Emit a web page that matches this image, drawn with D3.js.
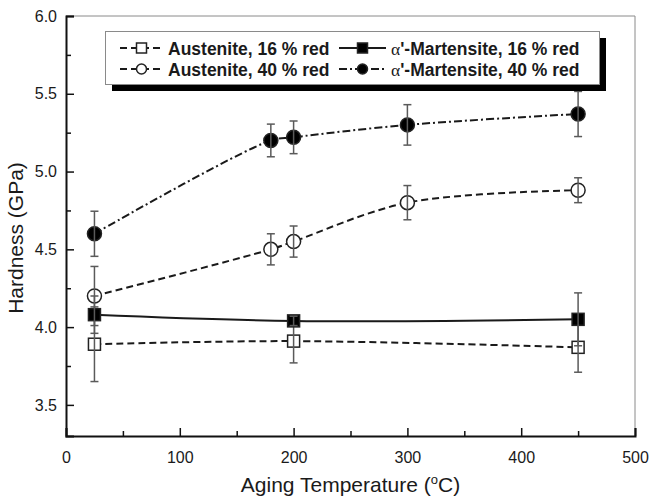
<!DOCTYPE html>
<html>
<head>
<meta charset="utf-8">
<script src="https://cdn.jsdelivr.net/npm/d3@7"></script>
<style>
  body { margin: 0; background: #fff; }
  text { font-family: Arial, "Liberation Sans", Helvetica, sans-serif; fill: #1a1a1a; }
</style>
</head>
<body>
<svg id="chart" width="650" height="499"></svg>
<script>
// values
var tempsAll = [25, 180, 200, 300, 450];
var tempsShort = [25, 200, 450];
var aus16 = [3.89, 3.91, 3.87];
var aus16Err = [0.24, 0.14, 0.16];
var mart16 = [4.08, 4.04, 4.05];
var mart16Err = [0.12, 0.03, 0.17];
var aus40 = [4.20, 4.50, 4.55, 4.80, 4.88];
var aus40Err = [0.19, 0.10, 0.10, 0.11, 0.08];
var mart40 = [4.60, 5.20, 5.22, 5.30, 5.37];
var mart40Err = [0.145, 0.105, 0.105, 0.13, 0.145];
var xTickValues = [0, 100, 200, 300, 400, 500];
var xMinorValues = [50, 150, 250, 350, 450];
var yTickValues = [3.5, 4.0, 4.5, 5.0, 5.5, 6.0];
var yMinorValues = [3.75, 4.25, 4.75, 5.25, 5.75];
var legendNames = ['Austenite, 16 % red', "'-Martensite, 16 % red", 'Austenite, 40 % red', "'-Martensite, 40 % red"];

var margin = { top: 16, right: 15, bottom: 63, left: 66 };
var width = 650 - margin.left - margin.right;
var height = 499 - margin.top - margin.bottom;

var svg = d3.select('#chart').append('g')
  .attr('transform', 'translate(' + margin.left + ', ' + margin.top + ')');

var xScale = d3.scaleLinear().domain([0, 500]).range([0, width]);
var yScale = d3.scaleLinear().domain([3.3, 6.0]).range([height, 0]);

function pts(xs, ys, es) {
  return xs.map(function (x, i) { return { x: x, y: ys[i], e: es[i] }; });
}

var series = [
  { name: legendNames[2], data: pts(tempsAll, aus40, aus40Err), shape: 'circle', filled: false, dash: '7,4' },
  { name: legendNames[3], data: pts(tempsAll, mart40, mart40Err), shape: 'circle', filled: true, dash: '8,3,2,3', alpha: true },
  { name: legendNames[0], data: pts(tempsShort, aus16, aus16Err), shape: 'square', filled: false, dash: '7,4' },
  { name: legendNames[1], data: pts(tempsShort, mart16, mart16Err), shape: 'square', filled: true, dash: null, alpha: true }
];

// axis frame: top and right thin grey
svg.append('line').attr('x1', 0).attr('x2', width).attr('y1', 0).attr('y2', 0)
  .attr('stroke', '#8a8a8a').attr('stroke-width', 1);
svg.append('line').attr('x1', width).attr('x2', width).attr('y1', 0).attr('y2', height)
  .attr('stroke', '#8a8a8a').attr('stroke-width', 1);

// bottom axis, ticks pointing inward
var xAxis = d3.axisBottom(xScale).tickValues(xTickValues).tickSize(-8).tickPadding(16)
  .tickFormat(d3.format('d'));
var gx = svg.append('g').attr('transform', 'translate(0, ' + height + ')').call(xAxis);
gx.selectAll('.tick line').attr('stroke', '#111').attr('stroke-width', 1.5);
var gxMinor = svg.append('g').attr('transform', 'translate(0, ' + height + ')')
  .call(d3.axisBottom(xScale).tickValues(xMinorValues).tickSize(-5).tickFormat(''));
gxMinor.selectAll('.tick line').attr('stroke', '#111').attr('stroke-width', 1.5);
gxMinor.select('.domain').remove();

// left axis
var yAxis = d3.axisLeft(yScale).tickValues(yTickValues).tickSize(-8).tickPadding(9)
  .tickFormat(d3.format('.1f'));
var gy = svg.append('g').call(yAxis);
gy.selectAll('.tick line').attr('stroke', '#111').attr('stroke-width', 1.5);
var gyMinor = svg.append('g')
  .call(d3.axisLeft(yScale).tickValues(yMinorValues).tickSize(-5).tickFormat(''));
gyMinor.selectAll('.tick line').attr('stroke', '#111').attr('stroke-width', 1.5);
gyMinor.select('.domain').remove();

[gx, gy].forEach(function (g) {
  g.select('.domain').attr('stroke', '#111').attr('stroke-width', 2);
  g.selectAll('.tick text').style('font-size', '16px').attr('fill', '#1a1a1a');
});

// data lines
var line = d3.line()
  .x(function (d) { return xScale(d.x); })
  .y(function (d) { return yScale(d.y); })
  .curve(d3.curveCatmullRom.alpha(0.5));

series.forEach(function (s) {
  svg.append('path')
    .datum(s.data)
    .attr('d', line)
    .attr('fill', 'none')
    .attr('stroke', '#1a1a1a')
    .attr('stroke-width', 2)
    .attr('stroke-dasharray', s.dash);
});

function drawMarker(g, s, cx, cy, size) {
  if (s.shape === 'circle') {
    g.append('circle').attr('cx', cx).attr('cy', cy).attr('r', size / 2)
      .attr('fill', s.filled ? '#000' : '#fff')
      .attr('stroke', '#222').attr('stroke-width', 1.5);
  } else {
    g.append('rect').attr('x', cx - size / 2).attr('y', cy - size / 2)
      .attr('width', size).attr('height', size)
      .attr('fill', s.filled ? '#000' : '#fff')
      .attr('stroke', '#222').attr('stroke-width', 1.5);
  }
}

// markers, then error bars on top
series.forEach(function (s) {
  var g = svg.append('g');
  s.data.forEach(function (d) {
    drawMarker(g, s, xScale(d.x), yScale(d.y), s.shape === 'circle' ? 14 : 12);
  });
  var eb = svg.append('g').attr('stroke', '#5a5a5a').attr('stroke-width', 1.5);
  s.data.forEach(function (d) {
    var cx = xScale(d.x);
    var top = yScale(d.y + d.e);
    var bot = yScale(d.y - d.e);
    eb.append('line').attr('x1', cx).attr('x2', cx).attr('y1', top).attr('y2', bot);
    eb.append('line').attr('x1', cx - 4).attr('x2', cx + 4).attr('y1', top).attr('y2', top);
    eb.append('line').attr('x1', cx - 4).attr('x2', cx + 4).attr('y1', bot).attr('y2', bot);
  });
});

// legend box with black drop shadow
var lg = d3.select('#chart').append('g');
lg.append('rect').attr('x', 112).attr('y', 38).attr('width', 494).attr('height', 53).attr('fill', '#000');
lg.append('rect').attr('x', 105.5).attr('y', 31.5).attr('width', 494).attr('height', 53)
  .attr('fill', '#fff').attr('stroke', '#8a8a8a').attr('stroke-width', 1);

var legendOrder = [series[2], series[3], series[0], series[1]];
legendOrder.forEach(function (s, i) {
  var col = i % 2;
  var row = Math.floor(i / 2);
  var x0 = col === 0 ? 120 : 339;
  var x1 = col === 0 ? 163 : 386;
  var cy = row === 0 ? 48 : 69;
  lg.append('line').attr('x1', x0).attr('x2', x1).attr('y1', cy).attr('y2', cy)
    .attr('stroke', '#1a1a1a').attr('stroke-width', 2).attr('stroke-dasharray', s.dash);
  drawMarker(lg, s, (x0 + x1) / 2, cy, 10);
  var t = lg.append('text').attr('x', x1 + 5).attr('y', cy + 6.5)
    .style('font-size', '17.5px').style('font-weight', 'bold');
  if (s.alpha) {
    t.append('tspan').style('font-family', '"Liberation Serif", "Times New Roman", serif')
      .style('font-weight', 'normal').text('\u03b1');
  }
  t.append('tspan').text(s.name);
});

// axis titles
var xt = svg.append('text')
  .attr('x', width / 2)
  .attr('y', height + 56)
  .attr('text-anchor', 'middle')
  .style('font-size', '21px');
xt.append('tspan').text('Aging Temperature (');
xt.append('tspan').attr('dy', -8).style('font-size', '13px').text('o');
xt.append('tspan').attr('dy', 8).text('C)');

svg.append('text')
  .attr('transform', 'rotate(-90)')
  .attr('x', -(238 - margin.top))
  .attr('y', 23 - margin.left)
  .attr('text-anchor', 'middle')
  .style('font-size', '21px')
  .text('Hardness (GPa)');
</script>
</body>
</html>
